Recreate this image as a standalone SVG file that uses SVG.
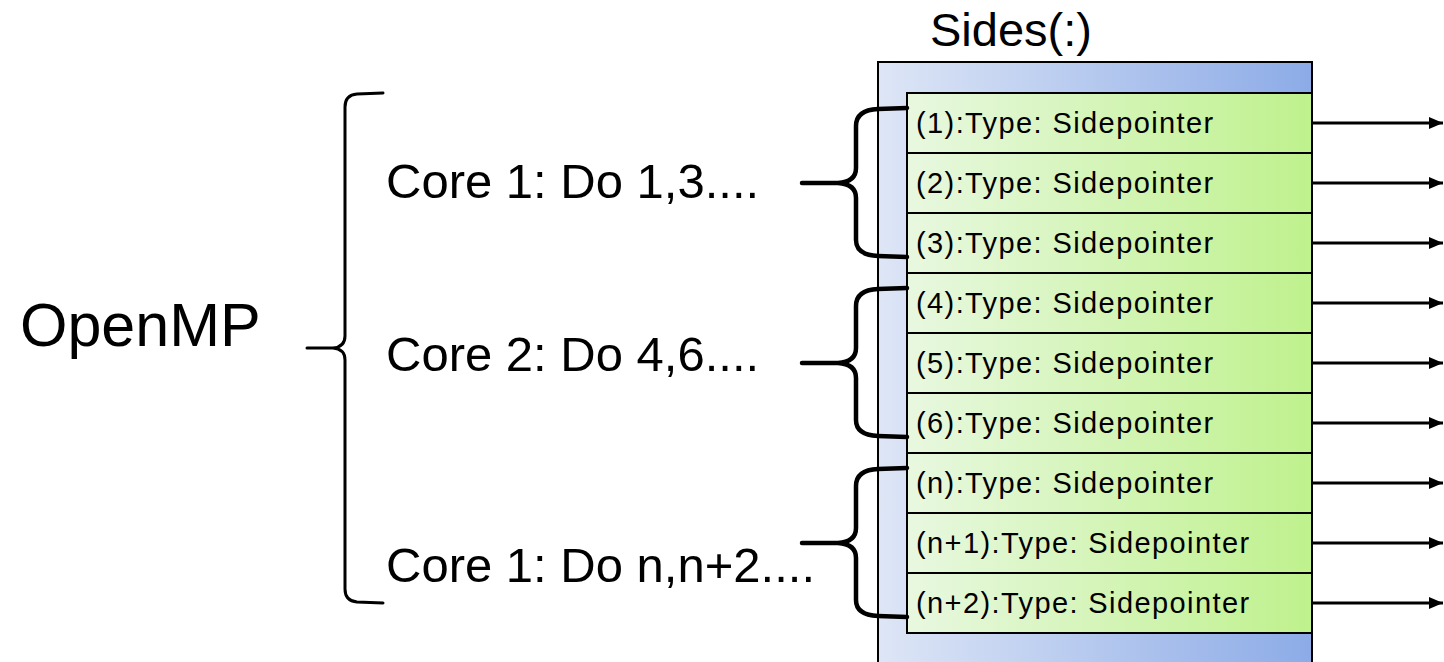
<svg xmlns="http://www.w3.org/2000/svg" width="1444" height="662" viewBox="0 0 1444 662">
  <defs>
    <linearGradient id="gBlue" x1="0" y1="0" x2="1" y2="0">
      <stop offset="0" stop-color="#dee6f6"/>
      <stop offset="1" stop-color="#8cabe7"/>
    </linearGradient>
    <linearGradient id="gGreen" x1="0" y1="0" x2="1" y2="0">
      <stop offset="0" stop-color="#e8f8e0"/>
      <stop offset="1" stop-color="#bff18d"/>
    </linearGradient>
    <marker id="arrow" viewBox="0 0 14 12" refX="14" refY="6" markerWidth="14" markerHeight="12" markerUnits="userSpaceOnUse" orient="auto">
      <path d="M0,0 L14,6 L0,12 Z" fill="#000"/>
    </marker>
  </defs>
  <style>
    .lbl { font-family: "Liberation Sans", Arial, sans-serif; fill: #000; }
    .row rect { fill: url(#gGreen); stroke: #000; stroke-width: 2; }
    .row text { font-family: "Liberation Sans", Arial, sans-serif; font-size: 29px; letter-spacing: 1.4px; fill: #000; }
    .brace { fill: none; stroke: #000; stroke-linecap: round; stroke-linejoin: round; }
    .conn line { stroke: #000; stroke-width: 3; marker-end: url(#arrow); }
  </style>

  <rect width="1444" height="662" fill="#fff"/>

  <!-- array container -->
  <g id="sides">
    <text class="lbl" x="930" y="46" font-size="47">Sides(:)</text>
    <rect x="878" y="62" width="434" height="620" fill="url(#gBlue)" stroke="#000" stroke-width="2"/>
  </g>

  <!-- array elements -->
  <g id="row1" class="row"><rect x="907" y="93" width="405" height="60"/><text x="916" y="133">(1):Type: Sidepointer</text></g>
  <g id="row2" class="row"><rect x="907" y="153" width="405" height="60"/><text x="916" y="193">(2):Type: Sidepointer</text></g>
  <g id="row3" class="row"><rect x="907" y="213" width="405" height="60"/><text x="916" y="253">(3):Type: Sidepointer</text></g>
  <g id="row4" class="row"><rect x="907" y="273" width="405" height="60"/><text x="916" y="313">(4):Type: Sidepointer</text></g>
  <g id="row5" class="row"><rect x="907" y="333" width="405" height="60"/><text x="916" y="373">(5):Type: Sidepointer</text></g>
  <g id="row6" class="row"><rect x="907" y="393" width="405" height="60"/><text x="916" y="433">(6):Type: Sidepointer</text></g>
  <g id="rown" class="row"><rect x="907" y="453" width="405" height="60"/><text x="916" y="493">(n):Type: Sidepointer</text></g>
  <g id="rown1" class="row"><rect x="907" y="513" width="405" height="60"/><text x="916" y="553">(n+1):Type: Sidepointer</text></g>
  <g id="rown2" class="row"><rect x="907" y="573" width="405" height="60"/><text x="916" y="613">(n+2):Type: Sidepointer</text></g>

  <!-- OpenMP label and its brace -->
  <g id="openmp">
    <text class="lbl" x="20" y="346" font-size="61">OpenMP</text>
    <path class="brace" stroke-width="3" d="M383,93 L357,94 Q345,95 345,107 L345,336 Q345,347 333,348 L307,348 M333,348 Q345,349 345,360 L345,589 Q345,601 357,602 L383,603"/>
  </g>

  <!-- per-core labels -->
  <g id="core1">
    <text class="lbl" x="386" y="198" font-size="49">Core 1: Do 1,3....</text>
  </g>
  <g id="core2">
    <text class="lbl" x="386" y="371" font-size="49">Core 2: Do 4,6....</text>
  </g>
  <g id="core3">
    <text class="lbl" x="386" y="582" font-size="49">Core 1: Do n,n+2....</text>
  </g>

  <!-- connectors: braces grouping rows, and outgoing pointers -->
  <g id="connectors">
    <path class="brace" stroke-width="4.5" d="M907,108 L878,109 Q856,110 856,126 L856,168 Q856,182 838,183 L802,183 M838,183 Q856,184 856,198 L856,240 Q856,255 878,256 L907,257"/>
    <path class="brace" stroke-width="4.5" d="M907,288 L878,289 Q856,290 856,306 L856,348 Q856,362 838,363 L802,363 M838,363 Q856,364 856,378 L856,420 Q856,435 878,436 L907,437"/>
    <path class="brace" stroke-width="4.5" d="M907,468 L878,469 Q856,470 856,486 L856,528 Q856,542 838,543 L802,543 M838,543 Q856,544 856,558 L856,600 Q856,615 878,616 L907,617"/>
    <g class="conn">
      <line x1="1312" y1="123" x2="1443" y2="123"/>
      <line x1="1312" y1="183" x2="1443" y2="183"/>
      <line x1="1312" y1="243" x2="1443" y2="243"/>
      <line x1="1312" y1="303" x2="1443" y2="303"/>
      <line x1="1312" y1="363" x2="1443" y2="363"/>
      <line x1="1312" y1="423" x2="1443" y2="423"/>
      <line x1="1312" y1="483" x2="1443" y2="483"/>
      <line x1="1312" y1="543" x2="1443" y2="543"/>
      <line x1="1312" y1="603" x2="1443" y2="603"/>
    </g>
  </g>
</svg>
